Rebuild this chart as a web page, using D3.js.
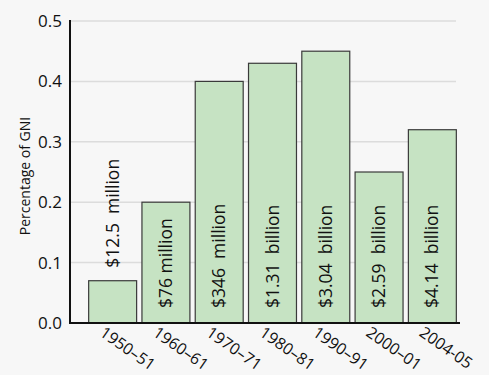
<!DOCTYPE html>
<html><head><meta charset="utf-8">
<script src="https://cdn.jsdelivr.net/npm/d3@7"></script>
<style>
html,body{margin:0;padding:0;background:#f7f7f7;}
svg{display:block;font-family:"Open Sans",sans-serif;}
</style></head>
<body>
<svg id="chart" width="489" height="375"></svg>
<script>
const categories = ["1950–51","1960–61","1970–71","1980–81","1990–91","2000–01","2004-05"];
const values = [0.07, 0.20, 0.40, 0.43, 0.45, 0.25, 0.32];
const barLabels = ["$12.5  million","$76 million","$346  million","$1.31  billion","$3.04  billion","$2.59  billion","$4.14  billion"];
const yTicks = [0.0, 0.1, 0.2, 0.3, 0.4, 0.5];
const yTitle = "Percentage of GNI";

const svg = d3.select("#chart");
const x0 = 70, x1 = 460, yTop = 21, yBot = 323;
const x = d3.scaleBand().domain(categories).range([86, 459]).paddingInner(0.1).paddingOuter(0.05);
const y = d3.scaleLinear().domain([0, 0.5]).range([yBot, yTop]);

// gridlines
svg.append("g").selectAll("line").data(yTicks.filter(d => d > 0)).join("line")
  .attr("x1", x0).attr("x2", 456)
  .attr("y1", d => y(d)).attr("y2", d => y(d))
  .attr("stroke", "#dcdcdc").attr("stroke-width", 1.5);

// bars
svg.append("g").selectAll("rect").data(values).join("rect")
  .attr("x", (d, i) => x(categories[i]))
  .attr("y", d => y(d))
  .attr("width", x.bandwidth())
  .attr("height", d => y(0) - y(d))
  .attr("fill", "#c6e3c3").attr("stroke", "#3a3a3a").attr("stroke-width", 1.2);

// bar labels
svg.append("g").selectAll("text").data(values).join("text")
  .attr("transform", (d, i) => {
    const cx = x(categories[i]) + x.bandwidth() / 2 + 6;
    const yy = (y(0) - y(d) < 120) ? y(d) - 13 : y(0) - 15;
    return `translate(${cx},${yy}) rotate(-90)`;
  })
  .attr("text-anchor", "start")
  .style("white-space", "pre")
  .attr("font-size", 17.5).attr("fill", "#111")
  .text((d, i) => barLabels[i]);

// y axis
const yAxis = d3.axisLeft(y).tickValues(yTicks).tickFormat(d3.format(".1f")).tickSize(0).tickPadding(8);
const gy = svg.append("g").attr("transform", `translate(${x0},0)`).call(yAxis);
gy.select(".domain").remove();
gy.selectAll("text").attr("font-size", 17).attr("fill", "#111").attr("font-family", "Open Sans");

// x axis
const xAxis = d3.axisBottom(x).tickSize(0).tickPadding(0);
const gx = svg.append("g").attr("transform", `translate(0,${yBot})`).call(xAxis);
gx.select(".domain").remove();
gx.selectAll("text")
  .attr("font-size", 16).attr("fill", "#111").attr("font-family", "Open Sans")
  .attr("text-anchor", "start").attr("dy", null).attr("y", 0)
  .attr("transform", "translate(-14,12) rotate(35)");

// axis lines
svg.append("line").attr("x1", x0).attr("x2", x0).attr("y1", yTop - 1).attr("y2", yBot + 1)
  .attr("stroke", "#111").attr("stroke-width", 2);
svg.append("line").attr("x1", x0 - 1).attr("x2", x1).attr("y1", yBot).attr("y2", yBot)
  .attr("stroke", "#111").attr("stroke-width", 2);

// y title
svg.append("text")
  .attr("transform", `translate(30,176) rotate(-90)`)
  .attr("text-anchor", "middle").attr("font-size", 14).attr("fill", "#111")
  .text(yTitle);
</script>
</body></html>
